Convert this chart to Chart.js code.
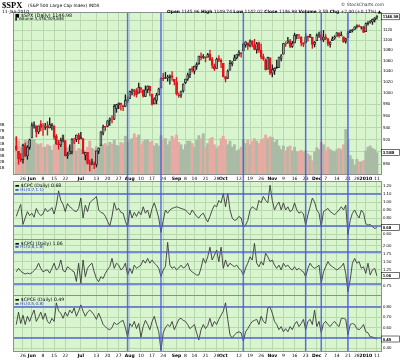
<!DOCTYPE html>
<html><head><meta charset="utf-8">
<script src="https://cdn.jsdelivr.net/npm/chart.js@4"></script>
<style>
html,body{margin:0;padding:0;background:#fff;}
body{width:400px;height:360px;overflow:hidden;position:relative;font-family:"DejaVu Sans",sans-serif;}
canvas{position:absolute;left:0;}
.t{position:absolute;white-space:nowrap;color:#000;z-index:20;}
.b{color:#2d3fc8;}
</style></head><body>
<canvas id="cMain" width="400" height="186" style="top:0px"></canvas>
<canvas id="cCpc" width="400" height="69" style="top:176px"></canvas>
<canvas id="cCpci" width="400" height="67" style="top:234px"></canvas>
<canvas id="cCpce" width="400" height="70" style="top:290px"></canvas>
<canvas id="cOver" width="400" height="360" style="top:0px;z-index:10;pointer-events:none"></canvas>

<div class="t" style="left:2px;top:0px;font-family:'Liberation Serif',serif;font-size:8.5px;line-height:10px;font-weight:bold">$SPX</div>
<div class="t" style="left:28px;top:2.5px;font-size:4.4px;line-height:5px">(S&amp;P 500 Large Cap Index) INDX</div>
<div class="t" style="left:2px;top:8.6px;font-size:4.4px;line-height:5px">11-Jan-2010</div>
<div class="t" style="left:341px;top:2px;font-size:4.4px;line-height:5px;color:#333">© StockCharts.com</div>
<div class="t" style="left:167px;top:8.6px;font-size:4.4px;line-height:5px"><b>Open</b> 1145.96 <b>High</b> 1149.74 <b>Low</b> 1142.02 <b>Close</b> 1146.98 <b>Volume</b> 3.5B <b>Chg</b> +2.00 (+0.17%) ▲</div>

<div class="t" style="left:15px;top:13.2px;font-size:4.8px;line-height:5px">■ $SPX (Daily) 1146.98</div>
<div class="t" style="left:15px;top:17px;font-size:4px;line-height:4.5px">▮ Volume 3,476,309,848</div>

<div class="t" style="left:15px;top:182.7px;font-size:4.6px;line-height:5px">▬ $CPC (Daily) 0.68</div>
<div class="t b" style="left:15px;top:187px;font-size:4.2px;line-height:5px">▬ HL(0.7,1.1)</div>
<div class="t" style="left:15px;top:240.6px;font-size:4.6px;line-height:5px">▬ $CPCI (Daily) 1.06</div>
<div class="t b" style="left:15px;top:244.3px;font-size:4.2px;line-height:5px">▬ HL(0.8,1.8)</div>
<div class="t" style="left:15px;top:296.8px;font-size:4.6px;line-height:5px">▬ $CPCE (Daily) 0.49</div>
<div class="t b" style="left:15px;top:300.6px;font-size:4.2px;line-height:5px">▬ HL(0.5,0.8)</div>

<script>
// ---------- DATA (trading days 20-May-2009 .. 11-Jan-2010) ----------
const opens = [908.6,900.4,888.7,887.0,909.9,892.9,907.0,923.3,942.9,942.5,
932.5,945.7,938.1,940.4,942.7,939.0,943.4,942.5,925.6,911.9,
910.9,919.9,918.1,893.5,896.3,899.5,918.8,919.9,927.2,920.8,
921.2,894.3,898.6,881.9,881.3,880.0,879.6,900.8,910.2,930.2,
940.6,942.1,952.0,953.4,954.1,972.2,978.6,981.5,977.7,976.0,
986.8,990.2,1001.4,1005.4,1004.1,999.8,1008.9,1005.8,994.0,1005.9,
1012.2,998.2,980.6,986.9,996.4,1009.1,1026.6,1026.6,1027.4,1027.8,
1031.6,1025.2,1019.5,996.1,996.1,1003.8,1018.7,1025.4,1033.0,1043.9,
1040.2,1049.0,1054.0,1067.9,1066.6,1067.1,1066.4,1072.7,1062.6,1049.5,
1045.4,1063.7,1061.0,1054.9,1029.7,1026.9,1042.0,1053.7,1060.0,1065.3,
1071.6,1075.0,1078.7,1090.4,1094.7,1088.2,1098.6,1090.4,1081.0,1095.0,
1080.4,1067.5,1061.5,1043.7,1065.4,1036.2,1040.9,1047.1,1047.3,1064.1,
1072.3,1091.9,1096.0,1098.3,1087.6,1094.1,1109.2,1109.4,1106.4,1094.7,
1094.9,1105.8,1106.5,1105.5,1091.1,1098.9,1109.0,1110.6,1100.4,1105.5,
1103.0,1091.1,1098.7,1104.0,1107.8,1114.1,1108.6,1106.4,1097.9,1105.3,
1114.5,1118.8,1121.1,1127.5,1128.6,1125.5,1126.6,1116.6,1132.7,1135.7,
1136.3,1140.5,1146.0];
const highs = [924.6,900.4,896.7,911.8,913.8,909.5,920.0,947.8,949.4,942.5,
942.5,951.7,946.3,946.9,949.8,956.2,946.3,942.5,928.0,918.4,
921.9,927.1,918.1,898.7,910.9,921.4,922.0,927.3,930.0,931.9,
921.2,898.8,898.6,886.8,887.9,883.6,901.1,906.0,933.0,943.9,
941.9,951.6,956.5,959.8,979.4,979.8,982.5,982.2,977.8,996.7,
993.2,1003.6,1007.1,1006.6,1008.0,1018.0,1010.1,1005.8,1012.8,1013.1,
1012.6,998.2,991.2,999.6,1008.9,1027.6,1035.8,1037.8,1032.5,1033.3,
1039.5,1025.2,1028.5,1000.3,1003.4,1016.5,1025.4,1036.3,1044.5,1048.2,
1049.7,1056.0,1068.8,1074.8,1071.5,1067.3,1073.8,1080.2,1066.3,1053.5,
1065.1,1069.6,1063.4,1054.9,1030.6,1042.6,1060.6,1058.0,1070.7,1071.5,
1079.5,1075.3,1093.2,1096.6,1094.7,1100.2,1098.6,1101.4,1095.2,1095.8,
1091.8,1072.5,1063.3,1066.8,1066.0,1052.2,1046.4,1061.0,1066.7,1071.5,
1093.2,1096.4,1105.4,1101.6,1097.6,1113.7,1110.9,1111.1,1106.4,1094.7,
1112.4,1107.6,1111.2,1105.5,1097.2,1112.3,1115.6,1117.3,1119.1,1110.7,
1103.0,1097.0,1106.3,1108.5,1114.8,1114.1,1116.2,1106.4,1103.7,1117.7,
1120.3,1121.6,1126.5,1130.4,1130.4,1126.4,1127.6,1133.9,1136.6,1139.2,
1142.5,1145.4,1149.7];
const lows = [901.4,879.6,883.8,881.5,891.9,887.6,903.6,923.3,938.5,923.9,
929.3,934.1,926.4,936.2,927.0,939.0,935.7,919.7,911.6,903.8,
907.9,915.8,893.0,888.9,896.3,896.3,913.0,916.2,912.9,920.8,
896.4,886.4,879.9,869.3,878.5,872.8,875.3,896.5,910.2,927.5,
934.4,940.9,943.2,947.8,953.3,965.9,972.3,969.4,968.7,976.0,
982.9,990.2,996.7,994.3,992.5,999.8,1000.8,992.4,993.4,1000.8,
994.6,978.5,980.6,980.6,996.4,1009.1,1022.5,1026.2,1021.6,1016.2,
1023.1,1014.6,996.3,992.0,992.3,1001.7,1016.8,1023.0,1028.0,1038.4,
1035.0,1043.4,1052.9,1061.2,1064.3,1057.5,1066.4,1060.4,1045.9,1041.2,
1045.4,1057.8,1046.5,1029.4,1020.0,1025.9,1042.0,1050.1,1060.0,1063.0,
1068.3,1066.7,1078.7,1085.9,1081.5,1086.5,1086.2,1080.8,1074.3,1075.5,
1063.3,1060.6,1042.2,1043.7,1033.4,1029.4,1033.9,1045.2,1047.3,1059.3,
1072.3,1087.4,1093.5,1085.0,1085.3,1094.1,1102.2,1102.7,1088.4,1086.8,
1094.9,1097.6,1104.8,1083.7,1086.3,1098.9,1105.3,1098.7,1096.5,1100.8,
1088.6,1085.9,1098.7,1101.3,1107.8,1105.4,1108.0,1095.3,1093.9,1105.3,
1114.5,1116.0,1121.1,1123.5,1126.1,1121.9,1114.8,1116.6,1129.7,1134.0,
1131.3,1136.2,1142.0];
const closes = [903.47,888.33,887.00,910.33,893.06,906.83,919.14,942.87,944.74,931.76,
942.46,940.09,939.14,942.43,939.15,944.89,946.21,923.72,911.97,910.71,
918.37,921.23,893.04,895.10,900.94,920.26,918.90,927.23,919.32,923.33,
896.42,898.72,881.03,879.56,882.68,879.13,901.05,905.84,932.68,940.74,
940.38,951.13,954.58,954.07,976.29,979.26,982.18,979.62,975.15,986.75,
987.48,1002.63,1005.65,1002.72,997.08,1010.48,1007.10,994.35,1005.81,1012.73,
1004.09,979.73,989.67,996.46,1007.37,1026.13,1025.57,1028.00,1028.12,1030.98,
1028.93,1020.62,998.04,994.75,1003.24,1016.40,1025.39,1033.37,1044.14,1042.73,
1049.34,1052.63,1068.76,1065.49,1068.30,1064.66,1071.66,1060.87,1050.78,1044.38,
1062.98,1060.61,1057.08,1029.85,1025.21,1040.46,1054.72,1057.58,1065.48,1071.49,
1076.19,1073.19,1092.02,1096.56,1087.68,1097.91,1091.06,1081.40,1092.91,1079.60,
1066.95,1063.41,1042.63,1066.11,1036.19,1042.88,1045.41,1046.50,1066.63,1069.30,
1093.08,1093.01,1098.51,1087.24,1093.48,1109.30,1110.32,1109.80,1094.90,1091.38,
1106.24,1105.65,1110.63,1091.49,1095.63,1108.86,1109.24,1099.92,1105.98,1103.25,
1091.94,1095.95,1102.35,1106.41,1114.11,1107.93,1109.18,1096.08,1102.47,1114.05,
1118.02,1120.59,1126.48,1127.78,1126.19,1126.42,1115.10,1132.99,1136.52,1137.14,
1141.69,1144.98,1146.98];
const volumes = [6.0,5.4,4.4,5.0,5.6,5.4,5.8,5.8,5.6,5.0,
4.8,5.0,4.4,4.4,4.8,4.6,3.9,4.8,4.9,5.2,
4.4,6.4,4.6,4.3,4.4,4.8,5.6,3.8,4.2,4.0,
3.6,3.8,4.4,5.4,4.2,4.0,4.5,4.0,5.0,4.8,
5.0,4.6,5.2,4.9,5.6,4.7,4.6,5.2,5.0,6.2,
5.2,5.6,5.8,6.6,6.0,6.4,4.8,5.4,5.6,5.6,
5.2,5.4,4.6,5.0,4.6,6.3,5.6,5.8,4.8,5.4,
6.2,5.8,6.4,5.2,4.8,4.0,4.8,5.4,5.4,5.0,
4.4,5.6,6.3,5.8,6.6,4.4,5.0,5.8,6.0,4.8,
4.2,4.6,5.8,6.2,5.6,4.8,5.4,4.4,4.8,3.8,
4.0,4.4,5.6,5.0,5.6,4.8,5.4,5.8,5.4,5.0,
5.6,5.8,6.4,5.8,6.1,6.0,5.2,5.6,4.6,4.0,
4.6,3.8,4.4,4.6,3.8,4.4,3.6,3.7,3.9,3.6,
3.8,3.3,3.0,2.2,3.6,4.3,4.0,5.2,4.8,3.8,
4.4,4.0,3.8,3.6,4.0,4.2,4.0,4.8,7.3,5.6,
3.0,2.4,1.4,2.4,2.0,2.0,2.2,3.8,4.4,4.6,
4.2,4.0,3.5];
const cpc = [0.82,0.90,0.97,0.72,0.80,0.88,0.83,0.86,0.81,0.92,
0.86,0.83,0.85,0.92,0.88,0.90,0.93,0.85,0.96,1.14,
1.02,0.97,0.88,0.98,0.94,0.92,0.89,0.88,0.92,1.05,
0.80,0.96,0.88,0.99,1.02,1.04,1.07,0.90,0.87,0.86,
0.82,0.76,0.70,0.82,0.99,0.90,0.92,0.87,0.86,0.76,
0.69,0.90,0.80,0.87,0.82,0.88,0.84,0.94,0.86,0.90,
0.80,0.92,0.99,0.90,0.80,0.62,0.77,0.90,0.86,0.90,
0.92,0.93,0.94,0.93,0.92,0.91,0.90,0.87,0.84,0.90,
0.86,0.82,0.80,0.84,0.86,0.80,0.75,0.82,0.90,0.96,
0.94,1.02,0.99,1.11,0.94,1.11,0.90,0.80,0.77,0.78,
0.82,0.80,0.69,0.71,0.77,0.90,0.94,0.92,0.90,1.02,
0.99,1.07,1.02,0.99,1.21,1.02,0.90,0.96,1.00,0.90,
0.99,0.90,0.94,0.88,0.90,0.99,0.90,0.86,0.88,0.85,
0.71,0.84,0.94,1.05,1.00,0.90,0.86,0.69,0.88,0.90,
0.92,0.88,0.86,0.84,0.87,0.90,0.94,0.90,0.96,0.59,
0.77,0.86,0.90,0.84,0.80,0.90,0.86,0.73,0.71,0.72,
0.69,0.67,0.68];
const cpci = [1.18,1.29,1.20,1.15,1.11,1.14,1.12,1.15,1.22,1.30,
1.45,1.29,1.18,1.22,1.24,1.14,1.29,1.45,1.24,1.30,
1.55,1.22,1.18,1.34,1.29,1.22,1.18,0.88,1.45,0.82,
1.55,1.03,1.29,1.39,1.45,1.18,0.97,0.87,1.03,0.97,
1.13,1.25,1.34,1.60,1.29,1.45,1.39,1.24,1.30,1.45,
1.08,1.29,1.13,1.39,1.29,1.34,1.39,1.55,1.45,1.60,
1.45,1.55,1.45,1.39,1.29,1.03,1.24,1.34,2.10,1.39,
1.29,1.34,1.24,1.30,1.39,1.30,1.34,1.45,1.24,1.18,
1.13,1.08,1.08,1.30,1.60,1.45,1.65,1.95,1.55,1.70,
1.86,1.50,1.95,1.29,1.55,1.34,1.45,1.39,1.34,1.39,
1.29,1.22,1.08,1.30,1.45,1.65,1.55,2.07,1.45,1.34,
1.50,1.39,1.76,1.65,1.50,1.55,1.39,1.29,1.39,1.24,
1.45,1.34,1.39,1.29,1.24,1.34,1.24,1.29,1.22,1.18,
1.03,1.29,1.45,1.34,1.29,1.33,1.39,0.82,1.18,1.34,
1.50,1.39,1.34,1.29,1.24,1.29,1.34,1.45,1.13,0.56,
0.93,1.45,1.60,1.45,1.50,1.29,1.34,1.13,1.45,1.08,
1.24,1.29,1.06];
const cpce = [0.63,0.75,0.64,0.72,0.63,0.71,0.66,0.72,0.77,0.66,
0.70,0.75,0.68,0.74,0.66,0.64,0.69,0.66,0.84,0.76,
0.74,0.69,0.75,0.71,0.77,0.74,0.79,0.71,0.76,0.82,
0.76,0.71,0.75,0.77,0.75,0.72,0.68,0.74,0.69,0.63,
0.61,0.59,0.58,0.60,0.65,0.63,0.64,0.66,0.67,0.60,
0.51,0.64,0.61,0.66,0.59,0.64,0.51,0.61,0.67,0.63,
0.58,0.66,0.71,0.63,0.56,0.38,0.55,0.60,0.63,0.61,
0.66,0.58,0.63,0.68,0.69,0.67,0.66,0.63,0.59,0.61,
0.63,0.55,0.48,0.58,0.63,0.59,0.62,0.69,0.61,0.66,
0.63,0.68,0.72,0.76,0.84,0.68,0.53,0.50,0.53,0.55,
0.56,0.55,0.47,0.56,0.59,0.63,0.66,0.67,0.68,0.63,
0.71,0.66,0.64,0.79,0.80,0.74,0.66,0.63,0.58,0.61,
0.56,0.59,0.56,0.61,0.58,0.63,0.66,0.61,0.64,0.68,
0.58,0.66,0.68,0.63,0.77,0.61,0.66,0.55,0.64,0.66,
0.63,0.61,0.64,0.66,0.63,0.61,0.69,0.69,0.68,0.53,
0.63,0.64,0.63,0.59,0.58,0.60,0.63,0.56,0.55,0.51,
0.51,0.50,0.49];

const tickIndex = [3,7,12,17,22,29,36,41,46,51,56,61,66,72,76,80,85,90,93,100,105,110,115,120,125,130,135,139,144,149,153,157,162];
const tickText  = ['26','Jun','8','15','22','Jul','13','20','27','Aug','10','17','24','Sep','8','14','21','28','Oct','12','19','26','Nov','9','16','23','Dec','7','14','21','28','2010','11'];
const monthText = ['Jun','Jul','Aug','Sep','Oct','Nov','Dec','2010'];
const signalIndex = [50,65,102,130,137,149];
const priceTicks = [880,900,920,940,960,980,1000,1020,1040,1060,1080,1100,1120,1140];
const volTicks = [1,2,3,4,5,6,7,8];
const cpcTicks = [0.6,0.7,0.8,0.9,1.0,1.1,1.2];
const cpciTicks = [0.75,1.0,1.25,1.5,1.75,2.0];
const cpceTicks = [0.4,0.5,0.6,0.7,0.8];
const cpcHL = [0.7,1.1], cpciHL = [0.8,1.8], cpceHL = [0.5,0.8];

// ---------- STYLE / LAYOUT ----------
const X_MIN = -1.03, X_MAX = 163.84;
const P_MIN = 864.4, P_MAX = 1154.8, V_MAX = 26.4;
const BG = '#d8f5d0', GRID = '#b6d9ae', FRAME = '#8e8e8e', HLC = 'rgba(78,92,212,0.92)', SIG = 'rgba(70,90,225,0.85)';
const TICKFONT = {family:'Liberation Sans', size:4.3};

const idx = closes.map((_, i) => i);
const upDay = closes.map((c, i) => i === 0 ? c >= opens[i] : c >= closes[i - 1]);

function panelPlugin(cfg){
  return {
    id:'panel',
    beforeDraw(chart){
      const {ctx, chartArea:a} = chart;
      ctx.save(); ctx.fillStyle = BG;
      ctx.fillRect(a.left, a.top, a.right - a.left, a.bottom - a.top); ctx.restore();
    },
    afterDatasetsDraw(chart){
      if (!cfg.hl) return;
      const {ctx, chartArea:a} = chart, y = chart.scales.y;
      ctx.save(); ctx.strokeStyle = HLC; ctx.lineWidth = 1.6;
      cfg.hl.forEach(v => { const p = y.getPixelForValue(v); ctx.beginPath(); ctx.moveTo(a.left, p); ctx.lineTo(a.right, p); ctx.stroke(); });
      ctx.restore();
    },
    afterDraw(chart){
      const {ctx, chartArea:a} = chart;
      ctx.save(); ctx.strokeStyle = FRAME; ctx.lineWidth = 1;
      ctx.strokeRect(a.left - 0.5, a.top - 0.5, a.right - a.left + 1, a.bottom - a.top + 1);
      (cfg.boxes || []).forEach(b => {
        const p = chart.scales[b.axis].getPixelForValue(b.value);
        const x = a.right + 0.5, w = 18, h = 6;
        ctx.fillStyle = '#fff'; ctx.fillRect(x, p - h / 2, w, h);
        ctx.strokeStyle = '#111'; ctx.lineWidth = 0.6; ctx.strokeRect(x, p - h / 2, w, h);
        ctx.fillStyle = '#000'; ctx.font = 'bold 4.4px "Liberation Sans"'; ctx.textBaseline = 'middle';
        ctx.fillText(b.text, x + 1.2, p + 0.3);
      });
      ctx.restore();
    }
  };
}

function xScale(showLabels, h){
  return {
    type:'linear', min:X_MIN, max:X_MAX, offset:false,
    afterBuildTicks: s => { s.ticks = tickIndex.map(v => ({value:v})); },
    afterFit: s => { s.height = h; },
    grid:{color:GRID, lineWidth:1, drawTicks:false, offset:false},
    border:{display:false},
    ticks:{display:showLabels, autoSkip:false, maxRotation:0, minRotation:0, padding:2, color:'#000',
      font: c => ({family:'DejaVu Sans', size:4.5, weight: monthText.includes(tickText[c.index]) ? 'bold' : 'normal'}),
      callback: (v, i) => tickText[i]}
  };
}

function yScale(min, max, ticks, fmt){
  return {
    type:'linear', position:'right', min:min, max:max,
    afterBuildTicks: s => { s.ticks = ticks.map(v => ({value:v})); },
    afterFit: s => { s.width = 19; },
    grid:{color:GRID, lineWidth:1, drawTicks:false}, border:{display:false},
    ticks:{padding:2, color:'#000', font:TICKFONT, callback: fmt}
  };
}

const common = {responsive:false, animation:false, events:[], plugins:{legend:{display:false}, tooltip:{enabled:false}}};

// ---------- MAIN PRICE + VOLUME ----------
const mainChart = new Chart(document.getElementById('cMain'), {
  type:'bar',
  data:{datasets:[
    {label:'Bodies', order:1, grouped:false, yAxisID:'y',
      data: idx.map(i => ({x:i, y:[opens[i], closes[i]]})),
      barThickness:2.1, minBarLength:0.8, borderSkipped:false, borderWidth:0.75,
      borderColor: idx.map(i => upDay[i] ? '#1a1a1a' : '#e0141e'),
      backgroundColor: idx.map(i => closes[i] < opens[i] ? (upDay[i] ? '#1a1a1a' : '#e0141e') : 'rgba(255,255,255,0.55)')},
    {label:'Wicks', order:2, grouped:false, yAxisID:'y',
      data: idx.map(i => ({x:i, y:[lows[i], highs[i]]})),
      barThickness:0.7, borderWidth:0,
      backgroundColor: idx.map(i => upDay[i] ? '#1a1a1a' : '#e0141e')},
    {label:'Volume', order:3, grouped:false, yAxisID:'yv',
      data: idx.map(i => ({x:i, y:volumes[i]})),
      barThickness:2.25, borderWidth:0,
      backgroundColor: idx.map(i => upDay[i] ? '#a9bba5' : '#e7aaa3')}
  ]},
  options:{...common,
    layout:{padding:{top:13, left:0, right:0, bottom:0}},
    scales:{
      x: xScale(true, 12),
      y: {type:'logarithmic', position:'right', min:P_MIN, max:P_MAX,
        afterBuildTicks: s => { s.ticks = priceTicks.map(v => ({value:v})); },
        afterFit: s => { s.width = 19; },
        grid:{color:GRID, lineWidth:1, drawTicks:false}, border:{display:false},
        ticks:{padding:2, color:'#000', font:TICKFONT, callback: v => v > 1130 ? '' : String(v)}},
      yv: {type:'linear', position:'left', min:0, max:V_MAX,
        afterBuildTicks: s => { s.ticks = volTicks.map(v => ({value:v})); },
        afterFit: s => { s.width = 14; },
        grid:{display:false}, border:{display:false},
        ticks:{padding:1.5, color:'#000', font:{family:'Liberation Sans', size:4}, callback: v => v + 'B'}}
    }
  },
  plugins:[panelPlugin({boxes:[
    {axis:'y', value:closes[closes.length - 1], text:closes[closes.length - 1].toFixed(2)},
    {axis:'yv', value:volumes[volumes.length - 1], text:volumes[volumes.length - 1].toFixed(2) + 'B'}
  ]})]
});

// ---------- INDICATOR PANELS ----------
function indicator(id, values, min, max, ticks, hl, xLabels, padBottom){
  const last = values[values.length - 1];
  return new Chart(document.getElementById(id), {
    type:'line',
    data:{datasets:[{data: idx.map(i => ({x:i, y:values[i]})), borderColor:'#3a3a3a', borderWidth:0.9,
      pointRadius:0, tension:0, fill:false}]},
    options:{...common,
      layout:{padding:{top:6, left:14, right:0, bottom:padBottom}},
      scales:{x: xScale(xLabels, xLabels ? 9 : 0), y: yScale(min, max, ticks, v => v.toFixed(2))}
    },
    plugins:[panelPlugin({hl:hl, boxes:[{axis:'y', value:last, text:last.toFixed(2)}]})]
  });
}
indicator('cCpc', cpc, 0.5375, 1.25, cpcTicks, cpcHL, false, 6);
indicator('cCpci', cpci, 0.456, 2.175, cpciTicks, cpciHL, false, 6);
indicator('cCpce', cpce, 0.374, 0.906, cpceTicks, cpceHL, true, 0);

// ---------- SIGNAL LINES ACROSS ALL PANELS ----------
const ovCtx = document.getElementById('cOver').getContext('2d');
const mainX = mainChart.scales.x, panelTop = mainChart.chartArea.top;
ovCtx.strokeStyle = SIG; ovCtx.lineWidth = 1.5;
signalIndex.forEach(i => {
  const px = mainX.getPixelForValue(i);
  ovCtx.beginPath(); ovCtx.moveTo(px, panelTop); ovCtx.lineTo(px, 351); ovCtx.stroke();
});
</script>
</body></html>
